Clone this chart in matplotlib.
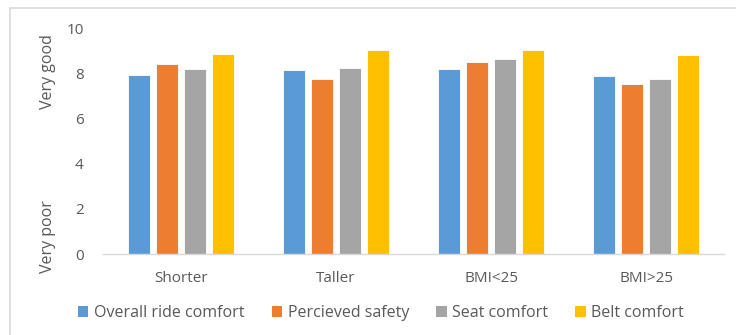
import matplotlib
matplotlib.use("Agg")
import matplotlib.pyplot as plt
from matplotlib.patches import Rectangle
import numpy as np

plt.rcParams['font.family'] = ['Open Sans', 'DejaVu Sans']

categories = ["Shorter", "Taller", "BMI<25", "BMI>25"]
series_names = ["Overall ride comfort", "Percieved safety", "Seat comfort", "Belt comfort"]
overall_ride = [7.91, 8.16, 8.17, 7.86]
perceived_safety = [8.41, 7.74, 8.51, 7.51]
seat_comfort = [8.20, 8.24, 8.63, 7.74]
belt_comfort = [8.86, 9.01, 9.01, 8.82]
y_ticks = [0, 2, 4, 6, 8, 10]

colors = ["#5B9BD5", "#ED7D31", "#A5A5A5", "#FFC000"]
series = [overall_ride, perceived_safety, seat_comfort, belt_comfort]

W, H = 736, 335
fig = plt.figure(figsize=(W / 100, H / 100), dpi=100)

# chart-area border
fig.patches.append(Rectangle((10 / W, -0.05), 1.2, 1 - 8 / H + 0.05,
                             transform=fig.transFigure, fill=False,
                             edgecolor="#D9D9D9", linewidth=1.2))

ax = fig.add_axes([103 / W, (H - 254) / H, 621 / W, 226 / H])

x = np.arange(len(categories))
pitch = 0.18
width = 0.142
for i, (vals, col, name) in enumerate(zip(series, colors, series_names)):
    ax.bar(x + (i - 1.5) * pitch, vals, width=width, color=col,
           edgecolor="white", linewidth=0.6, label=name)

ax.set_xlim(-0.5, 3.5)
ax.set_ylim(0, 10)
ax.set_yticks(y_ticks)
ax.set_xticks(x)
ax.set_xticklabels(categories)
ax.tick_params(axis="both", length=0, labelsize=11, colors="#595959")
ax.tick_params(axis="x", pad=12)
ax.tick_params(axis="y", pad=14)
for s in ["top", "right", "left"]:
    ax.spines[s].set_visible(False)
ax.spines["bottom"].set_color("#D9D9D9")
ax.spines["bottom"].set_linewidth(1.0)

fig.text(48 / W, 1 - 72 / H, "Very good", rotation=90, ha="center", va="center",
         fontsize=11.5, color="#595959")
fig.text(48 / W, 1 - 237 / H, "Very poor", rotation=90, ha="center", va="center",
         fontsize=11.5, color="#595959")

leg = fig.legend(loc="center", bbox_to_anchor=(381 / W, 1 - 313 / H), ncol=4,
                 frameon=False, fontsize=11.5, handlelength=0.65, handleheight=0.65,
                 handletextpad=0.35, columnspacing=1.7, labelcolor="#595959")
for h in leg.legend_handles:
    h.set_edgecolor("none")

fig.savefig("out.png", dpi=100)
